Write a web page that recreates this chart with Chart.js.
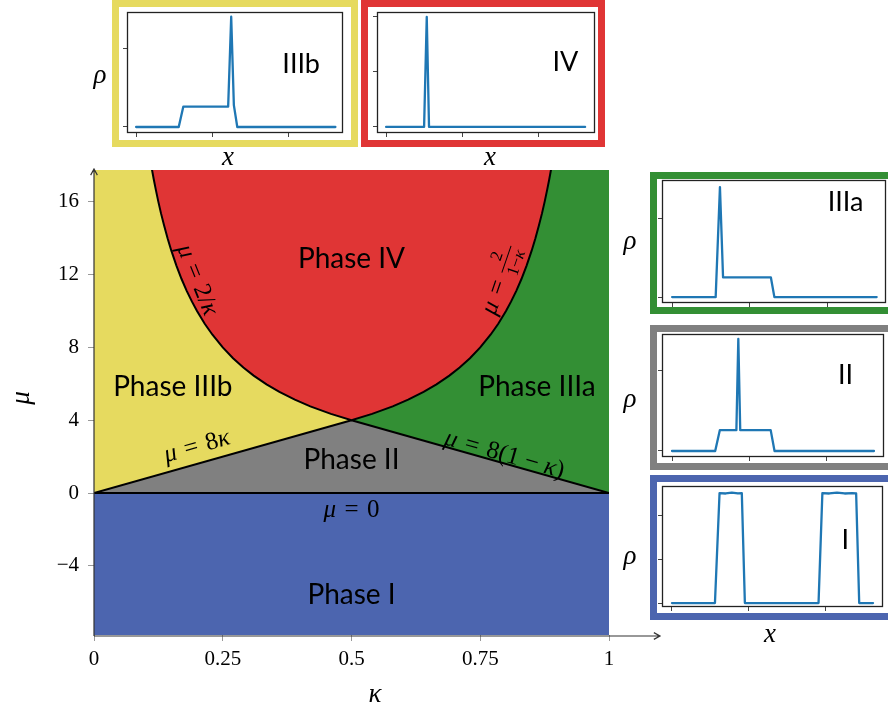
<!DOCTYPE html>
<html>
<head>
<meta charset="utf-8">
<script src="https://cdn.jsdelivr.net/npm/chart.js@4.4.0/dist/chart.umd.min.js"></script>
<style>
  html, body { margin: 0; padding: 0; background: #fff; width: 888px; height: 713px; overflow: hidden; }
  #main { position: absolute; left: 0; top: 0; }
  .box { position: absolute; box-sizing: border-box; border: 7px solid; background: #fff; }
  .box canvas { display: block; }
  .lbl { position: absolute; font-family: 'Liberation Serif', serif; font-style: italic; font-size: 27px;
         line-height: 1; transform: translate(-50%, -50%); }
</style>
</head>
<body>
<canvas id="main" width="888" height="713"></canvas>

<div class="box" style="left:112px;top:0;width:246px;height:147px;border-color:#e6da5f"><canvas id="cIIIb" width="232" height="133"></canvas></div>
<div class="box" style="left:361px;top:0;width:244px;height:147px;border-color:#e03535"><canvas id="cIV" width="230" height="133"></canvas></div>
<div class="box" style="left:650px;top:172px;width:250px;height:142px;border-color:#338f34"><canvas id="cIIIa" width="236" height="128"></canvas></div>
<div class="box" style="left:650px;top:325px;width:250px;height:145px;border-color:#808080"><canvas id="cII" width="236" height="131"></canvas></div>
<div class="box" style="left:650px;top:475px;width:250px;height:145px;border-color:#4c65af"><canvas id="cI" width="236" height="131"></canvas></div>

<span class="lbl" style="left:100px;top:74px">ρ</span>
<span class="lbl" style="left:228px;top:156px">x</span>
<span class="lbl" style="left:490px;top:156px">x</span>
<span class="lbl" style="left:630px;top:240px">ρ</span>
<span class="lbl" style="left:630px;top:398px">ρ</span>
<span class="lbl" style="left:630px;top:555px">ρ</span>
<span class="lbl" style="left:770px;top:633px">x</span>

<script>
// ---- diagrama de fases: eixos
const kappaTicks = [0, 0.25, 0.5, 0.75, 1];
const muTicks = [-4, 0, 4, 8, 12, 16];

// fronteiras
const leftLineK = [0, 0.5],  leftLineMu = [0, 4];      // mu = 8 kappa
const rightLineK = [0.5, 1], rightLineMu = [4, 0];     // mu = 8 (1 - kappa)
const zeroK = [0, 1],        zeroMu = [0, 0];          // mu = 0
const triK = [0, 0.5, 1],    triMu = [0, 4, 0];        // fase II
// fronteira da fase IV (mu = 2/kappa a esquerda, mu = 2/(1-kappa) a direita)
const curveK = [0.108, 0.112, 0.116, 0.12, 0.125, 0.13, 0.136, 0.143, 0.15, 0.16, 0.17, 0.18, 0.19, 0.2,
                0.215, 0.23, 0.25, 0.27, 0.29, 0.31, 0.335, 0.36, 0.39, 0.42, 0.46, 0.5,
                0.54, 0.58, 0.61, 0.64, 0.665, 0.69, 0.71, 0.73, 0.75, 0.77, 0.785, 0.8, 0.81, 0.82,
                0.83, 0.84, 0.85, 0.857, 0.864, 0.87, 0.875, 0.88, 0.884, 0.888, 0.892];
const curveMu = [18.52, 17.86, 17.24, 16.67, 16.0, 15.38, 14.71, 13.99, 13.33, 12.5, 11.76, 11.11, 10.53, 10.0,
                 9.30, 8.70, 8.0, 7.41, 6.90, 6.45, 5.97, 5.56, 5.13, 4.76, 4.35, 4.0,
                 4.35, 4.76, 5.13, 5.56, 5.97, 6.45, 6.90, 7.41, 8.0, 8.70, 9.30, 10.0, 10.53, 11.11,
                 11.76, 12.5, 13.33, 13.99, 14.71, 15.38, 16.0, 16.67, 17.24, 17.86, 18.52];

const phaseNames = ['Phase IV', 'Phase IIIb', 'Phase IIIa', 'Phase II', 'Phase I'];
const phaseK  = [0.5, 0.153, 0.86, 0.5, 0.5];
const phaseMu = [12.85, 5.85, 5.85, 1.8, -5.6];

// ---- perfis de densidade (insets)
const insetTicks = [0, 1, 2];
const iiibX = [0, 0.56, 0.62, 1.21, 1.25, 1.285, 1.33, 2.62];
const iiibY = [0, 0, 0.26, 0.26, 1.41, 0.28, 0, 0];
const ivX = [0, 0.5, 0.535, 0.565, 2.62];
const ivY = [0, 0, 1, 0, 0];
const iiiaX = [0, 0.56, 0.615, 0.655, 1.27, 1.315, 2.63];
const iiiaY = [0, 0, 1.4, 0.25, 0.25, 0, 0];
const iiX = [0, 0.56, 0.62, 0.835, 0.86, 0.885, 1.28, 1.33, 2.62];
const iiY = [0, 0, 0.26, 0.26, 1.4, 0.26, 0.26, 0, 0];
const iX = [0, 0.56, 0.62, 0.7, 0.78, 0.86, 0.91, 0.95, 1.91, 1.96, 2.05, 2.15, 2.25, 2.35, 2.4, 2.44, 2.62];
const iY = [0, 0, 2.5, 2.49, 2.51, 2.49, 2.5, 0, 0, 2.5, 2.49, 2.51, 2.49, 2.5, 2.49, 0, 0];

const cor = { amarelo: '#e6da5f', vermelho: '#e03535', verde: '#338f34', cinza: '#808080',
              azul: '#4c65af', linha: '#1f77b4' };

const SERIF = '"Liberation Serif", serif';
const SANS = 'Lato, "DejaVu Sans", sans-serif';
const EQ = '\u2004=\u2004', MINUS = '\u2005−\u2005';

function pts(xs, ys) { return xs.map((x, i) => ({ x, y: ys[i] })); }

// texto matematico: pedacos [texto, italico]
function mathText(ctx, segs, x, y, ang, size) {
  ctx.save();
  ctx.translate(x, y);
  ctx.rotate(ang * Math.PI / 180);
  ctx.textBaseline = 'middle';
  ctx.textAlign = 'left';
  const fonts = segs.map(s => (s[1] ? 'italic ' : '') + size + 'px ' + SERIF);
  const ws = segs.map((s, i) => { ctx.font = fonts[i]; return ctx.measureText(s[0]).width; });
  let cx = -ws.reduce((a, b) => a + b, 0) / 2;
  segs.forEach((s, i) => { ctx.font = fonts[i]; ctx.fillText(s[0], cx, 0); cx += ws[i]; });
  ctx.restore();
}

function fracText(ctx, x, y, ang, size) {
  ctx.save();
  ctx.translate(x, y);
  ctx.rotate(ang * Math.PI / 180);
  ctx.textBaseline = 'middle';
  const big = size + 'px ' + SERIF, sm = Math.round(size * 0.68) + 'px ' + SERIF;
  ctx.font = 'italic ' + big; const wMu = ctx.measureText('μ').width;
  ctx.font = big; const wEq = ctx.measureText(EQ).width;
  ctx.font = sm; const wOne = ctx.measureText('1−').width;
  ctx.font = 'italic ' + sm; const wK = ctx.measureText('κ').width;
  const wDen = wOne + wK + 2;
  let cx = -(wMu + wEq + wDen) / 2;
  ctx.textAlign = 'left';
  ctx.font = 'italic ' + big; ctx.fillText('μ', cx, 0); cx += wMu;
  ctx.font = big; ctx.fillText(EQ, cx, 0); cx += wEq;
  ctx.fillRect(cx, -1.5, wDen, 1);
  ctx.font = sm; ctx.textAlign = 'center'; ctx.fillText('2', cx + wDen / 2, -size * 0.42);
  ctx.textAlign = 'left'; ctx.fillText('1−', cx + 1, size * 0.4);
  ctx.font = 'italic ' + sm; ctx.fillText('κ', cx + 1 + wOne, size * 0.4);
  ctx.restore();
}

function arrow(ctx, x1, y1, x2, y2) {
  const a = Math.atan2(y2 - y1, x2 - x1), L = 7;
  ctx.beginPath();
  ctx.moveTo(x1, y1); ctx.lineTo(x2, y2);
  ctx.moveTo(x2 - L * Math.cos(a - 0.5), y2 - L * Math.sin(a - 0.5)); ctx.lineTo(x2, y2);
  ctx.lineTo(x2 - L * Math.cos(a + 0.5), y2 - L * Math.sin(a + 0.5));
  ctx.stroke();
}

const overlay = {
  id: 'overlay',
  afterDraw(chart) {
    const { ctx, chartArea: a, scales: { x, y } } = chart;
    ctx.save();
    // eixos com seta
    ctx.strokeStyle = '#333'; ctx.lineWidth = 1.2;
    arrow(ctx, a.left, a.bottom + 1, 660, a.bottom + 1);
    arrow(ctx, a.left, a.bottom + 1, a.left, a.top - 1);
    ctx.fillStyle = '#000';
    // fases
    ctx.font = '28px ' + SANS; ctx.textAlign = 'center'; ctx.textBaseline = 'middle';
    phaseNames.forEach((n, i) => ctx.fillText(n, x.getPixelForValue(phaseK[i]), y.getPixelForValue(phaseMu[i])));
    // fronteiras
    const px = x.getPixelForValue.bind(x), py = y.getPixelForValue.bind(y);
    const ang = Math.atan2(py(4) - py(0), px(0.5) - px(0)) * 180 / Math.PI;
    mathText(ctx, [['μ', 1], [EQ + '8', 0], ['κ', 1]], px(0.2), py(2.55), ang, 25);
    mathText(ctx, [['μ', 1], [EQ + '8(1' + MINUS, 0], ['κ', 1], [')', 0]], px(0.797), py(2.1), -ang, 25);
    mathText(ctx, [['μ', 1], [EQ + '2/', 0], ['κ', 1]], px(0.2), py(11.7), 68, 25);
    fracText(ctx, px(0.789), py(11.7), -71, 25);
    mathText(ctx, [['μ', 1], [EQ + '0', 0]], px(0.5), py(-0.95), 0, 25);
    // titulos dos eixos
    ctx.font = 'italic 27px ' + SERIF; ctx.textAlign = 'center';
    ctx.fillText('κ', 375, 695);
    ctx.save(); ctx.translate(22, 398); ctx.rotate(-Math.PI / 2); ctx.fillText('μ', 0, 0); ctx.restore();
    ctx.restore();
  }
};

const black = { borderColor: '#000', borderWidth: 2, pointRadius: 0 };

new Chart(document.getElementById('main'), {
  type: 'line',
  data: {
    datasets: [
      { ...black, data: pts(curveK, curveMu), backgroundColor: cor.vermelho, fill: 'end' },
      { ...black, data: pts(leftLineK, leftLineMu), backgroundColor: cor.amarelo, fill: 'end' },
      { ...black, data: pts(rightLineK, rightLineMu), backgroundColor: cor.verde, fill: 'end' },
      { ...black, data: pts(zeroK, zeroMu), backgroundColor: cor.azul, fill: 'start' },
      { data: pts(triK, triMu), borderWidth: 0, pointRadius: 0, backgroundColor: cor.cinza, fill: 'origin' }
    ]
  },
  options: {
    responsive: false, animation: false, events: [],
    layout: { padding: { left: 0, top: 170, right: 279, bottom: 0 } },
    plugins: { legend: { display: false }, tooltip: { enabled: false } },
    scales: {
      x: {
        type: 'linear', min: 0, max: 1,
        afterBuildTicks: s => { s.ticks = kappaTicks.map(v => ({ value: v })); },
        afterFit: s => { s.height = 78; },
        grid: { drawOnChartArea: false, tickLength: 6, color: '#999' },
        border: { display: false },
        ticks: { color: '#000', padding: 6, font: { family: SERIF, size: 21 }, callback: v => String(v) }
      },
      y: {
        type: 'linear', min: -7.8, max: 17.75,
        afterBuildTicks: s => { s.ticks = muTicks.map(v => ({ value: v })); },
        afterFit: s => { s.width = 94; },
        grid: { drawOnChartArea: false, tickLength: 6, color: '#999' },
        border: { display: false },
        ticks: { color: '#000', padding: 9, font: { family: SERIF, size: 21 },
                 callback: v => v < 0 ? '−' + Math.abs(v) : String(v) }
      }
    }
  },
  plugins: [overlay]
});

// ---- insets
function inset(id, xs, ys, o) {
  const frame = {
    id: 'frame',
    afterDraw(chart) {
      const { ctx, chartArea: a, scales: { x, y } } = chart;
      ctx.save();
      ctx.strokeStyle = '#222'; ctx.lineWidth = 1.3;
      ctx.strokeRect(a.left + 0.5, a.top + 0.5, a.right - a.left - 1, a.bottom - a.top - 1);
      ctx.fillStyle = '#000'; ctx.font = '27px ' + SANS; ctx.textAlign = 'center'; ctx.textBaseline = 'middle';
      ctx.fillText(o.label, x.getPixelForValue(o.lx), y.getPixelForValue(o.ly));
      ctx.restore();
    }
  };
  new Chart(document.getElementById(id), {
    type: 'line',
    data: { datasets: [{ data: pts(xs, ys), borderColor: cor.linha, borderWidth: 2.3, pointRadius: 0, fill: false,
                         borderJoinStyle: 'round', borderCapStyle: 'round' }] },
    options: {
      responsive: false, animation: false, events: [],
      layout: { padding: { left: 0, top: o.pt, right: o.pr, bottom: 0 } },
      plugins: { legend: { display: false }, tooltip: { enabled: false } },
      scales: {
        x: {
          type: 'linear', min: o.xmin, max: o.xmax,
          afterBuildTicks: s => { s.ticks = insetTicks.map(v => ({ value: v })); },
          afterFit: s => { s.height = o.xh; },
          ticks: { display: false }, border: { display: false },
          grid: { drawOnChartArea: false, tickLength: 4, color: '#444' }
        },
        y: {
          type: 'linear', min: o.ymin, max: o.ymax,
          afterBuildTicks: s => { s.ticks = o.yt.map(v => ({ value: v })); },
          afterFit: s => { s.width = o.yw; },
          ticks: { display: false }, border: { display: false },
          grid: { drawOnChartArea: false, tickLength: 4, color: '#444' }
        }
      }
    },
    plugins: [frame]
  });
}

inset('cIIIb', iiibX, iiibY, { label: 'IIIb', lx: 2.17, ly: 0.8, pt: 5, pr: 8, xh: 7, yw: 8,
  xmin: -0.12, xmax: 2.72, ymin: -0.077, ymax: 1.47, yt: [0, 1] });
inset('cIV', ivX, ivY, { label: 'IV', lx: 2.36, ly: 0.59, pt: 5, pr: 3, xh: 7, yw: 9,
  xmin: -0.12, xmax: 2.75, ymin: -0.055, ymax: 1.045, yt: [0, 0.5, 1] });
inset('cIIIa', iiiaX, iiiaY, { label: 'IIIa', lx: 2.23, ly: 1.2, pt: 1, pr: 7, xh: 4, yw: 5,
  xmin: -0.13, xmax: 2.75, ymin: -0.075, ymax: 1.49, yt: [0, 1] });
inset('cII', iiX, iiY, { label: 'II', lx: 2.25, ly: 0.95, pt: 2, pr: 9, xh: 6, yw: 5,
  xmin: -0.13, xmax: 2.75, ymin: -0.075, ymax: 1.46, yt: [0, 1] });
inset('cI', iX, iY, { label: 'I', lx: 2.26, ly: 1.43, pt: 4, pr: 10, xh: 6, yw: 5,
  xmin: -0.13, xmax: 2.75, ymin: -0.09, ymax: 2.66, yt: [0, 1, 2] });
</script>
</body>
</html>
